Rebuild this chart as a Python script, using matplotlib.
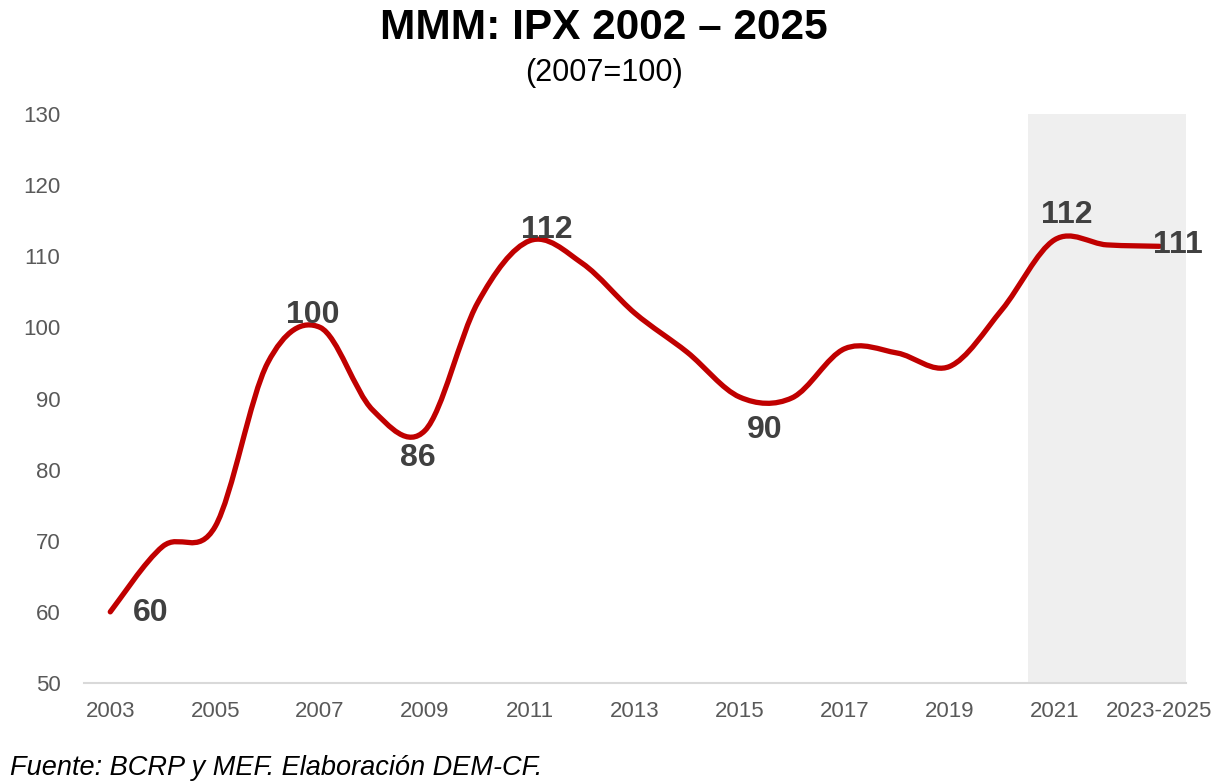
import matplotlib
matplotlib.use("Agg")
import matplotlib.pyplot as plt
import numpy as np
from matplotlib.path import Path
from matplotlib.patches import PathPatch

# IPX series, 2007 = 100
years = [str(y) for y in range(2003, 2023)] + ["2023-2025"]
ipx = [60.0, 69.2, 72.0, 95.0, 100.0, 88.4, 85.5, 103.4, 112.2, 109.0,
       102.0, 96.5, 90.2, 90.1, 97.0, 96.4, 94.5, 102.5, 112.3, 111.6, 111.4]

# points that get a value label, with offset of the label (in points)
label_idx = [0, 4, 6, 8, 12, 18, 20]
label_off = [(29, -1), (-5, 9), (-5, -20), (12, 8), (18, -24), (9, 18), (13, 1)]

# shaded projection block
proj_start, proj_end = 17.5, 20.5

red = "#C00000"
grey_txt = "#595959"
lbl_col = "#404040"
fam = ["Liberation Sans", "DejaVu Sans"]


def smooth_path(xs, ys):
    # cubic bezier through every point, handles from neighbouring points
    pts = np.column_stack([xs, ys])
    n = len(pts)
    verts = [pts[0]]
    codes = [Path.MOVETO]
    for i in range(n - 1):
        p0 = pts[i - 1] if i > 0 else pts[i]
        p1 = pts[i]
        p2 = pts[i + 1]
        p3 = pts[i + 2] if i + 2 < n else pts[i + 1]
        c1 = p1 + (p2 - p0) / 6.0
        c2 = p2 - (p3 - p1) / 6.0
        verts += [c1, c2, p2]
        codes += [Path.CURVE4] * 3
    return Path(verts, codes)


fig = plt.figure(figsize=(12.11, 7.81), dpi=100)
ax = fig.add_axes([0.0694, 0.1255, 0.9096, 0.7285])

x = np.arange(len(years))
ax.axvspan(proj_start, proj_end, color="#EFEFEF", zorder=0, lw=0)

line = PathPatch(smooth_path(x, ipx), fill=False, edgecolor=red, lw=3.8,
                 capstyle="round", joinstyle="round", zorder=3)
ax.add_patch(line)

for i, (dx, dy) in zip(label_idx, label_off):
    ax.annotate(f"{ipx[i]:.0f}", (x[i], ipx[i]), xytext=(dx, dy),
                textcoords="offset points", ha="center", va="center",
                fontsize=23, fontweight="bold", color=lbl_col,
                family=fam, zorder=4, annotation_clip=False)

ax.set_xlim(-0.5, 20.5)
ax.set_ylim(50, 130)
ax.set_yticks(range(50, 131, 10))
ax.set_xticks(x[::2])
ax.set_xticklabels(years[::2])

for s in ["top", "right", "left"]:
    ax.spines[s].set_visible(False)
ax.spines["bottom"].set_color("#D9D9D9")
ax.spines["bottom"].set_linewidth(1.5)

ax.tick_params(axis="y", length=0, pad=17, labelsize=16, labelcolor=grey_txt)
ax.tick_params(axis="x", length=0, pad=13, labelsize=16, labelcolor=grey_txt)
for t in ax.get_yticklabels() + ax.get_xticklabels():
    t.set_family(fam)

fig.text(0.499, 0.964, "MMM: IPX 2002 – 2025", ha="center", va="center",
         fontsize=30.5, fontweight="bold", family=fam)
fig.text(0.499, 0.907, "(2007=100)", ha="center", va="center",
         fontsize=22, family=fam)
fig.text(0.008, 0.017, "Fuente: BCRP y MEF. Elaboración DEM-CF.", ha="left",
         va="center", fontsize=19.5, style="italic", family=fam)

fig.savefig("out.png", dpi=100)
